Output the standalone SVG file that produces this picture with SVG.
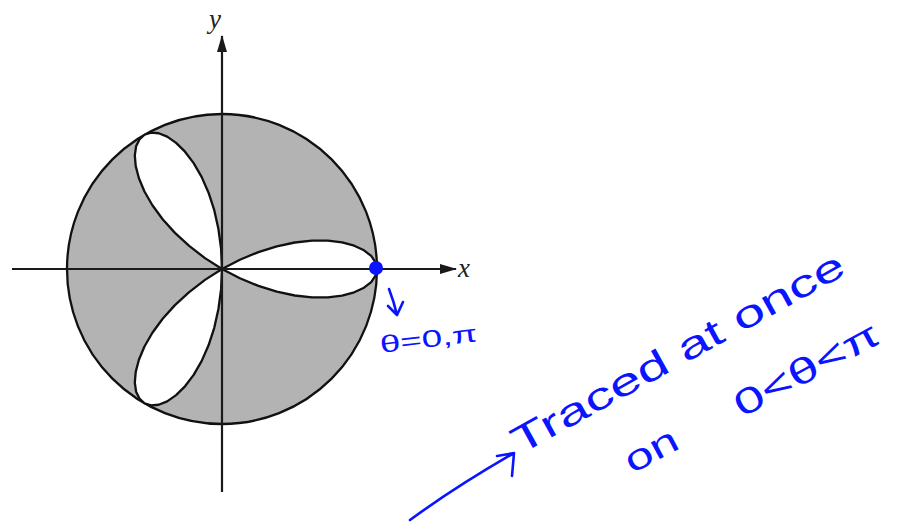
<svg xmlns="http://www.w3.org/2000/svg" width="900" height="522" viewBox="0 0 900 522">
<style>
.ax{stroke:#1a1a1a;stroke-width:2.2;fill:none}
.crv{stroke:#111;stroke-width:2.3;}
.lbl{font-family:"Liberation Serif",serif;font-style:italic;font-size:27px;fill:#222}
.hand{font-family:"Liberation Sans",sans-serif;fill:#0a14ff}
.ink{stroke:#0a14ff;stroke-width:2.6;fill:none;stroke-linecap:round;stroke-linejoin:round}
</style>
<defs>
<marker id="ah" markerWidth="17" markerHeight="10" refX="16" refY="5" orient="auto" markerUnits="userSpaceOnUse">
<path d="M0,0 L17,5 L0,10 Z" fill="#1a1a1a"/>
</marker>
<path id="petal" d="M0,0 L17.9,-9.3 L36.4,-16.9 L54.8,-22.7 L72.8,-26.5 L90,-28.4 L105.9,-28.4 L120.1,-26.6 L132.2,-23.3 L142,-18.7 L149.2,-13.05 L153.5,-6.7 L155,0 L153.5,6.7 L149.2,13.05 L142,18.7 L132.2,23.3 L120.1,26.6 L105.9,28.4 L90,28.4 L72.8,26.5 L54.8,22.7 L36.4,16.9 L17.9,9.3 Z"/>
</defs>
<rect width="900" height="522" fill="#fff"/>
<g id="graph">
<circle cx="222" cy="269" r="155" fill="#b3b3b3" class="crv"/>
<g transform="translate(222,269)" fill="#fff" class="crv" stroke-linejoin="round">
<use href="#petal"/>
<use href="#petal" transform="rotate(-120)"/>
<use href="#petal" transform="rotate(120)"/>
</g>
</g>
<g id="connectors">
<line class="ax" x1="12" y1="269" x2="456" y2="269" marker-end="url(#ah)"/>
<line class="ax" x1="222" y1="492" x2="222" y2="36" marker-end="url(#ah)"/>
<path class="ink" d="M389,289 Q394,302 397,315 M388,306 L397,315 L403,302"/>
<path class="ink" d="M410,520 Q455,487 514,453 M497,456 L514,453 L512,476"/>
</g>
<g id="labels">
<text class="lbl" x="458" y="277">x</text>
<text class="lbl" x="209" y="28">y</text>
</g>
<g id="point">
<circle cx="376" cy="268" r="7" fill="#0a14ff"/>
</g>
<g id="notes">
<text class="hand" font-size="24" transform="translate(381,353) rotate(-7)" textLength="98" lengthAdjust="spacingAndGlyphs">θ=0,π</text>
<text class="hand" font-size="38" transform="translate(520,455) rotate(-29)" textLength="375" lengthAdjust="spacingAndGlyphs">Traced at once</text>
<text class="hand" font-size="36" transform="translate(632,474) rotate(-28)" textLength="56" lengthAdjust="spacingAndGlyphs">on</text>
<text class="hand" font-size="36" transform="translate(742,418) rotate(-28.5)" textLength="160" lengthAdjust="spacingAndGlyphs">0&lt;θ&lt;π</text>
</g>
</svg>
